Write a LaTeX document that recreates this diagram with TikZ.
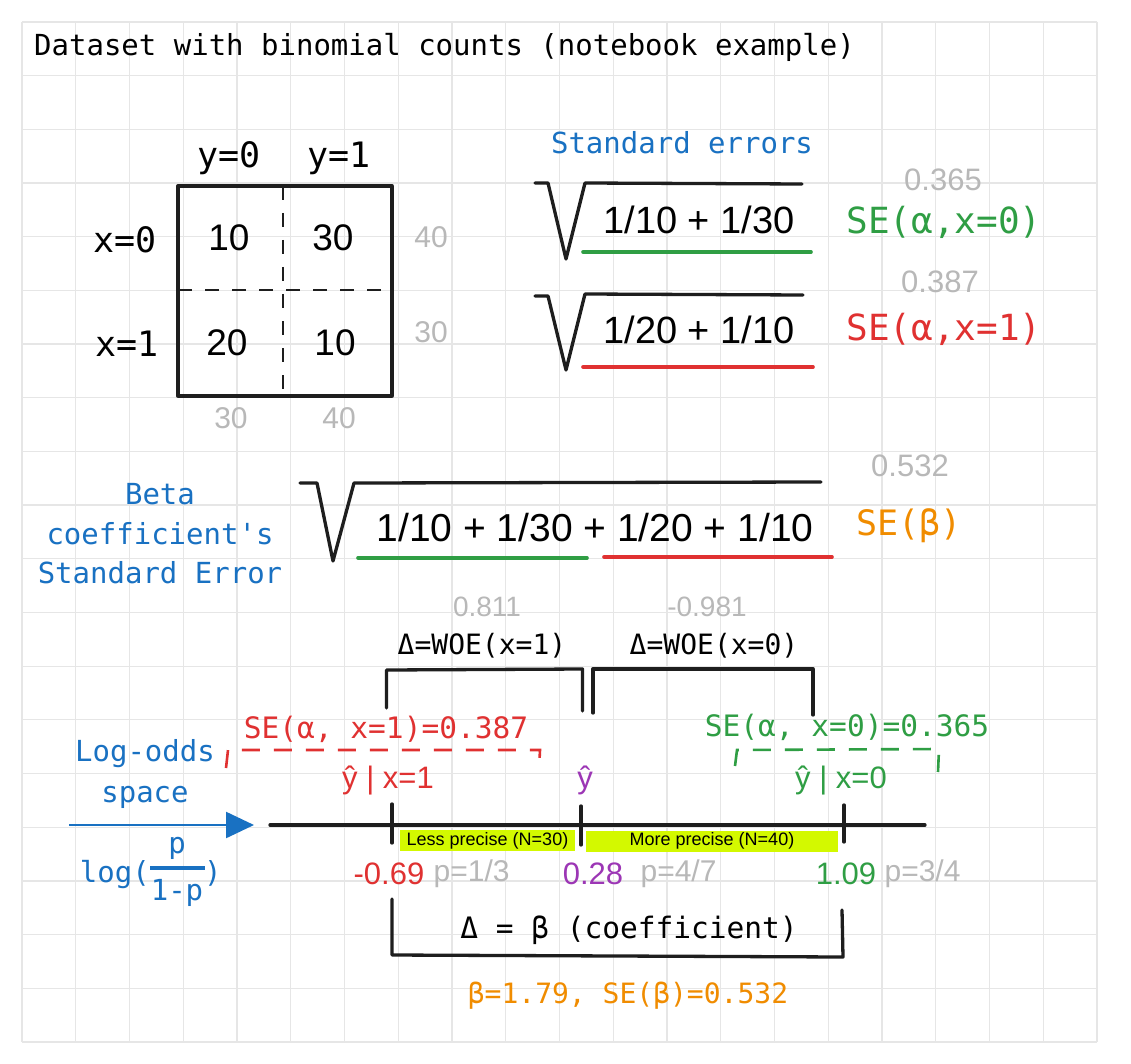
\documentclass[tikz,border=0pt]{standalone}
\usepackage{fontspec}
\setmainfont{Liberation Sans}
\newfontfamily\monofont{DejaVu Sans Mono}
\usetikzlibrary{positioning,arrows.meta}
\definecolor{exblue}{HTML}{1971C2}
\definecolor{exgreen}{HTML}{2F9E44}
\definecolor{exred}{HTML}{E03131}
\definecolor{exorange}{HTML}{F08C00}
\definecolor{expurple}{HTML}{9C36B5}
\definecolor{exgray}{HTML}{B8B8B8}
\definecolor{exink}{HTML}{1E1E1E}
\definecolor{exlime}{HTML}{D3F900}
\definecolor{exgrid}{HTML}{E6E6E6}

\begin{document}
\begin{tikzpicture}[x=1pt,y=-1pt,
    mono/.style={font=\fontsize{#1}{#1}\monofont, inner sep=0pt},
    sans/.style={font=\fontsize{#1}{#1}\selectfont, inner sep=0pt},
    ink/.style={draw=exink, line width=3.3pt, line cap=round, line join=round},
    cut/.style={draw=exink, line width=2.7pt, dash pattern=on 14pt off 13pt},
    gridline/.style={draw=exgrid, line width=1.3pt},
    greenbar/.style={draw=exgreen, line width=3.6pt, line cap=round},
    redbar/.style={draw=exred, line width=3.6pt, line cap=round},
    sedash/.style={line width=2.6pt, dash pattern=on 18pt off 14pt},
    precbox/.style={fill=exlime, inner sep=0pt, font=\fontsize{18}{18}\selectfont},
    bluearrow/.style={draw=exblue, line width=2.4pt, -{Triangle[length=28pt,width=26pt]}}]

  \useasboundingbox (0,0) rectangle (1131,1064);
  \fill[white] (0,0) rectangle (1131,1064);
  % grid
  \foreach \i in {0,...,20}
    \draw[gridline] ({22+53.75*\i},22) -- ({22+53.75*\i},1042);
  \foreach \j in {0,...,19}
    \draw[gridline] (22,{22+53.68*\j}) -- (1097,{22+53.68*\j});

  \node[mono=29, anchor=west] (title) at (34,47) {Dataset with binomial counts (notebook example)};

  % counts table
  \draw[ink] (178,186) rectangle (392,396);
  \draw[cut] (178,290) -- (392,290);
  \draw[cut] (283,186) -- (283,396);
  \node[mono=35] (y_0) at (229,158) {y=0};
  \node[mono=35] (y_1) at (339,158) {y=1};
  \node[mono=35] (x_0) at (125,240) {x=0};
  \node[mono=35] (x_1) at (127,344) {x=1};
  \node[sans=37] (c_00) at (229,238) {10};
  \node[sans=37] (c_01) at (333,238) {30};
  \node[sans=37] (c_10) at (227,343) {20};
  \node[sans=37] (c_11) at (335,343) {10};
  \node[sans=30, text=exgray] (r_0) at (431,237) {40};
  \node[sans=30, text=exgray] (r_1) at (431,332) {30};
  \node[sans=30, text=exgray] (k_0) at (231,418) {30};
  \node[sans=30, text=exgray] (k_1) at (339,418) {40};

  % standard errors
  \node[mono=29, text=exblue] (se_title) at (682,143) {Standard errors};
  \draw[ink] (535,183) -- (548,183) -- (566,259) -- (585,183) -- (802,184);
  \node[sans=38] (se_0) at (699,220) {1/10 + 1/30};
  \draw[greenbar] (583,252) -- (811,252);
  \node[sans=31, text=exgray] (v_0) at (943,180) {0.365};
  \node[mono=36, text=exgreen] (sa_0) at (944,222) {SE(α,x=0)};
  \draw[ink] (535,296) -- (548,296) -- (566,370) -- (585,294) -- (803,295);
  \node[sans=38] (se_1) at (699,330) {1/20 + 1/10};
  \draw[redbar] (583,367) -- (813,367);
  \node[sans=31, text=exgray] (v_1) at (940,282) {0.387};
  \node[mono=36, text=exred] (sa_1) at (944,329) {SE(α,x=1)};

  % beta standard error
  \node[font=\fontsize{29}{39.5}\monofont, text=exblue, align=center, inner sep=0pt] (beta_lbl) at (160,534) {Beta\\coefficient's\\Standard Error};
  \draw[ink] (300,483) -- (317,483) -- (333,561) -- (354,483) -- (821,482);
  \node[sans=39] (se_b) at (595,528) {1/10 + 1/30 + 1/20 + 1/10};
  \draw[greenbar] (358,558) -- (587,558);
  \draw[redbar] (604,557) -- (832,557);
  \node[sans=31, text=exgray] (v_b) at (910,466) {0.532};
  \node[mono=35, text=exorange] (sb) at (909,525) {SE(β)};

  % weights of evidence
  \node[sans=28, text=exgray] (w_1) at (487,607) {0.811};
  \node[mono=28] (woe_1) at (482,646) {Δ=WOE(x=1)};
  \node[sans=28, text=exgray] (w_0) at (707,607) {-0.981};
  \node[mono=28] (woe_0) at (714,646) {Δ=WOE(x=0)};
  \draw[ink] (386.5,708) -- (386.5,670) -- (582.5,669) -- (582.5,711);
  \draw[ink] (593,713) -- (593,669) -- (813,669) -- (813,715);

  % intervals
  \node[mono=29.5, text=exred] (sx_1) at (386,729) {SE(α, x=1)=0.387};
  \node[mono=29.5, text=exgreen] (sx_0) at (847,727) {SE(α, x=0)=0.365};
  \draw[exred, sedash] (226,768) -- (228,750) -- (540,750) -- (539,770);
  \draw[exgreen, sedash] (735,766) -- (737,750) -- (939,749) -- (938,772);
  \node[sans=31, text=exred] (yh_1) at (388,780) {ŷ | x=1};
  \node[sans=31, text=expurple] (yh) at (585,780) {ŷ};
  \node[sans=31, text=exgreen] (yh_0) at (841,780) {ŷ | x=0};

  % log-odds axis
  \node[font=\fontsize{29}{41}\monofont, text=exblue, align=center, inner sep=0pt] (lo_lbl) at (145,774) {Log-odds\\space};
  \coordinate (arr_s) at (69,825);
  \coordinate (arr_e) at (254,825);
  \draw[bluearrow] (arr_s) -- (arr_e);
  \node[mono=29, text=exblue, anchor=east] (log_l) at (150,875) {log(};
  \node[mono=29, text=exblue] (frac_n) at (177,848) {p};
  \node[mono=29, text=exblue] (frac_d) at (177,893) {1-p};
  \node[mono=29, text=exblue, anchor=west] (log_r) at (204,873) {)};
  \coordinate (bar_l) at (150,868);
  \coordinate (bar_r) at (205,868);
  \draw[exblue, line width=3.5pt] (bar_l) -- (bar_r);

  \node[precbox, minimum width=175pt, minimum height=21pt] (less) at (487.5,840.5) {Less precise (N=30)};
  \node[precbox, minimum width=252pt, minimum height=21pt] (more) at (712,841) {More precise (N=40)};
  \coordinate (ax_l) at (270,825);
  \coordinate (ax_r) at (925,825);
  \draw[ink] (ax_l) -- (ax_r);
  \coordinate (t_1) at (392,825);
  \coordinate (t_h) at (581,825);
  \coordinate (t_0) at (844,825);
  \draw[ink] ([yshift=21pt]t_1) -- ([yshift=-18pt]t_1);
  \draw[ink] ([yshift=19pt]t_h) -- ([yshift=-20pt]t_h);
  \draw[ink] ([yshift=20pt]t_0) -- ([yshift=-17pt]t_0);

  \node[sans=31, text=exred] (lo_1) at (389,874) {-0.69};
  \node[sans=30, text=exgray, right=9pt of lo_1] (p_1) {p=1/3};
  \node[sans=31, text=expurple] (lo_h) at (593,874) {0.28};
  \node[sans=30, text=exgray, right=17pt of lo_h] (p_h) {p=4/7};
  \node[sans=31, text=exgreen] (lo_0) at (846,874) {1.09};
  \node[sans=30, text=exgray, right=8pt of lo_0] (p_0) {p=3/4};

  % coefficient
  \draw[ink] (392,899) -- (392,955) -- (843,957) -- (842,910);
  \node[mono=29.5] (beta_d) at (629,930) {Δ = β (coefficient)};
  \node[mono=28, text=exorange] (beta_v) at (628,995) {β=1.79, SE(β)=0.532};
\end{tikzpicture}
\end{document}
